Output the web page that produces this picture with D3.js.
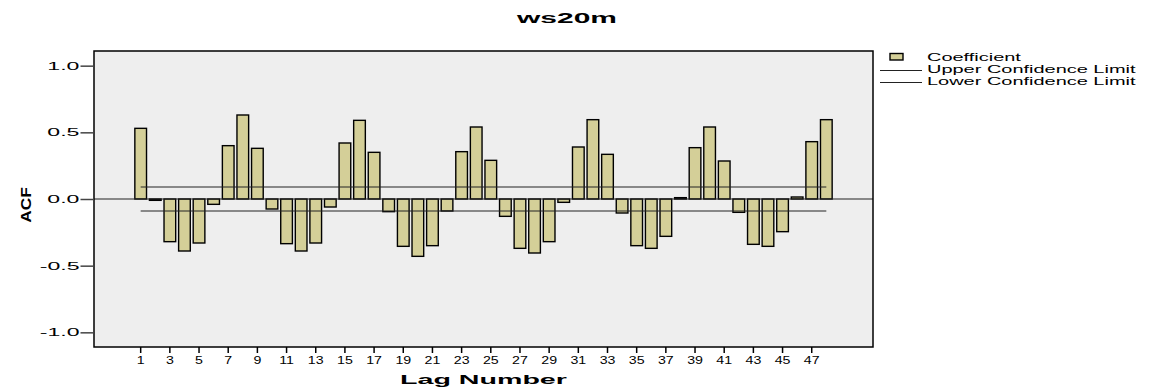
<!DOCTYPE html>
<html lang="en">
<head>
<meta charset="UTF-8">
<title>ws20m ACF</title>
<script src="https://d3js.org/d3.v7.min.js"></script>
<style>
  body { margin: 0; background: #fff; }
  svg text { font-family: "Liberation Sans", Arial, sans-serif; fill: #000; }
</style>
</head>
<body>
<svg width="1156" height="389"></svg>
<script>
// data
var lags = d3.range(1, 49);
var acf = [0.53, -0.01, -0.32, -0.39, -0.33, -0.04, 0.40, 0.63, 0.38, -0.075,
           -0.335, -0.39, -0.33, -0.06, 0.42, 0.59, 0.35, -0.095, -0.355, -0.43,
           -0.35, -0.09, 0.355, 0.54, 0.29, -0.13, -0.37, -0.405, -0.32, -0.025,
           0.39, 0.595, 0.335, -0.105, -0.35, -0.37, -0.28, 0.01, 0.385, 0.54,
           0.285, -0.10, -0.34, -0.355, -0.245, 0.015, 0.43, 0.595];
var upperLimit = 0.09, lowerLimit = -0.09;
var yTicks = [-1, -0.5, 0, 0.5, 1];
var xTicks = lags.filter(function(d) { return d % 2 === 1; });
var legendLabels = ["Coefficient", "Upper Confidence Limit", "Lower Confidence Limit"];

var svg = d3.select("svg");
var pLeft = 94, pRight = 873, pTop = 51, pBottom = 347;
var barFill = "#d4cf98";

var x = d3.scaleBand().domain(lags).range([pLeft, pRight]).paddingInner(0.2).paddingOuter(2.8);
var y = d3.scaleLinear().domain([-1.11, 1.11]).range([pBottom, pTop]);

// stretch text horizontally, the source picture is wide
function stretch(sel, k) {
  sel.each(function() {
    var l = this.getComputedTextLength();
    this.setAttribute("textLength", l * k);
    this.setAttribute("lengthAdjust", "spacingAndGlyphs");
  });
}

svg.append("rect")
  .attr("x", pLeft).attr("y", pTop)
  .attr("width", pRight - pLeft).attr("height", pBottom - pTop)
  .attr("fill", "#eeeeee");

svg.append("g").selectAll("rect")
  .data(acf)
  .join("rect")
  .attr("x", function(d, i) { return x(lags[i]); })
  .attr("width", x.bandwidth())
  .attr("y", function(d) { return y(Math.max(0, d)); })
  .attr("height", function(d) { return Math.abs(y(d) - y(0)); })
  .attr("fill", barFill)
  .attr("stroke", "#000")
  .attr("stroke-width", 1.4);

// zero line
svg.append("line")
  .attr("x1", pLeft).attr("x2", pRight)
  .attr("y1", y(0)).attr("y2", y(0))
  .attr("stroke", "#222").attr("stroke-width", 1);

// confidence limits, drawn over the bars
var cx0 = x(1) + x.bandwidth() / 2, cx1 = x(48) + x.bandwidth() / 2;
[upperLimit, lowerLimit].forEach(function(v) {
  svg.append("line")
    .attr("x1", cx0).attr("x2", cx1)
    .attr("y1", y(v)).attr("y2", y(v))
    .attr("stroke", "#222").attr("stroke-width", 1);
});

// frame
svg.append("rect")
  .attr("x", pLeft).attr("y", pTop)
  .attr("width", pRight - pLeft).attr("height", pBottom - pTop)
  .attr("fill", "none").attr("stroke", "#000").attr("stroke-width", 1.5);

// axes
var yAxis = svg.append("g")
  .attr("transform", "translate(" + (pLeft - 0.5) + ",0)")
  .call(d3.axisLeft(y).tickValues(yTicks).tickSize(13).tickPadding(1)
    .tickFormat(function(d) { return d.toFixed(1); }));
yAxis.select(".domain").remove();
yAxis.selectAll("line").attr("stroke", "#444").attr("stroke-width", 1.5);
yAxis.selectAll("text").attr("font-size", 10.5).attr("font-family", null).call(stretch, 2.2);

var xAxis = svg.append("g")
  .attr("transform", "translate(0," + pBottom + ")")
  .call(d3.axisBottom(x).tickValues(xTicks).tickSize(6).tickPadding(4));
xAxis.select(".domain").remove();
xAxis.selectAll("line").attr("stroke", "#000").attr("stroke-width", 1.5);
xAxis.selectAll("text").attr("font-size", 10.5).attr("font-family", null).call(stretch, 1.35);

// titles
svg.append("text")
  .attr("x", 567).attr("y", 23)
  .attr("text-anchor", "middle")
  .attr("font-size", 14).attr("font-weight", "bold")
  .text("ws20m").call(stretch, 2.14);

svg.append("text")
  .attr("x", (pLeft + pRight) / 2).attr("y", 384)
  .attr("text-anchor", "middle")
  .attr("font-size", 13).attr("font-weight", "bold")
  .text("Lag Number").call(stretch, 2.2);

svg.append("text")
  .attr("transform", "translate(31,205) rotate(-90)")
  .attr("text-anchor", "middle")
  .attr("font-size", 15).attr("font-weight", "bold")
  .text("ACF").call(stretch, 1.15);

// legend
var legend = svg.append("g");
legend.append("rect")
  .attr("x", 890).attr("y", 53.5).attr("width", 13).attr("height", 6.5)
  .attr("fill", barFill).attr("stroke", "#000").attr("stroke-width", 1.4);
[70.5, 82.5].forEach(function(ly) {
  legend.append("line")
    .attr("x1", 880).attr("x2", 922).attr("y1", ly).attr("y2", ly)
    .attr("stroke", "#222").attr("stroke-width", 1);
});
legend.selectAll("text")
  .data(legendLabels)
  .join("text")
  .attr("x", 927)
  .attr("y", function(d, i) { return 61 + i * 12; })
  .attr("font-size", 10.5)
  .text(function(d) { return d; })
  .call(stretch, 1.9);
</script>
</body>
</html>
